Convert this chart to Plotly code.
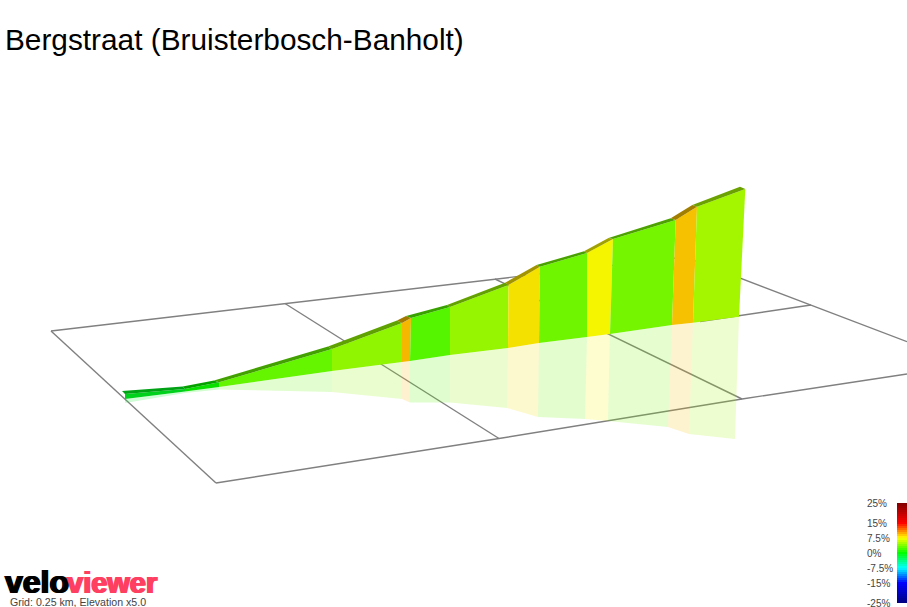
import plotly.graph_objects as go

TITLE = "Bergstraat (Bruisterbosch-Banholt)"
GRID_NOTE = "Grid: 0.25 km, Elevation x5.0"

# Gradient (%) of each road segment
grade = [-1.0, 0.3, 3.1, 4.4, 9.4, 2.6, 4.6, 8.1, 3.4, 7.5, 3.6, 9.1, 5.0]
# Brightness of each wall: the first two walls are seen at a flatter angle
wall_shade = [0.82, 0.88, 0.96, 0.96, 0.96, 0.96, 0.96, 0.96, 0.96, 0.96, 0.96, 0.96, 0.96]

# Projected picture coordinates, one per segment boundary
base_x = [125, 185, 219, 332, 402, 410, 450, 508, 539, 587, 610, 672, 693, 739]
base_y = [399, 391.5, 387, 371, 362, 361, 355, 348, 343, 337, 334, 325, 322.7, 316.7]
top_x = [125, 185, 219, 332, 402, 411, 450, 508.5, 540, 587, 613, 675.7, 697, 745.3]
top_y = [394, 389, 382.3, 349, 323, 318, 307, 285, 266.7, 253, 239, 220, 206.7, 189]
back_x = [122, 182.7, 214, 328, 397, 406, 447, 505, 536.5, 584, 608.5, 670.7, 692.3, 740]
back_y = [391, 386.5, 380.5, 346.5, 320.5, 316, 305, 282.7, 265, 251.3, 238, 218.3, 205, 186.7]
mirror_x = [125, 185, 219, 332, 402, 410, 450, 507, 538, 585, 608, 668, 689, 735]
mirror_y = [403, 393, 389.5, 392, 399, 402.5, 402.5, 408, 417, 419, 421, 427, 434, 439]

# Ground grid polylines
grid_lines = [
    ([51, 285, 495, 685], [331, 303.5, 279, 257]),
    ([216, 499, 742, 907], [483, 438.5, 399, 374]),
    ([51, 216], [331, 483]),
    ([285, 499], [303.5, 438.5]),
    ([495, 742], [279, 399]),
    ([685, 811, 907], [257, 305, 341.7]),
    ([700, 811], [321.5, 305]),
]

# Legend
legend_ticks = [25, 15, 7.5, 0, -7.5, -15, -25]
legend_labels = ["25%", "15%", "7.5%", "0%", "-7.5%", "-15%", "-25%"]
scale_grades = [-25, -15, -7.5, 0, 7.5, 15, 25]
scale_colors = [(0, 0, 128), (0, 0, 255), (0, 255, 255), (0, 255, 0),
                (255, 255, 0), (255, 0, 0), (128, 0, 0)]
legend_rows = list(range(-25, 26))


def grade_colour(g):
    for i in range(len(scale_grades) - 1):
        lo, hi = scale_grades[i], scale_grades[i + 1]
        if lo <= g <= hi:
            t = (g - lo) / (hi - lo)
            return tuple(a + (b - a) * t for a, b in zip(scale_colors[i], scale_colors[i + 1]))
    return scale_colors[-1]


def css(c, factor=1.0, alpha=None):
    r, g, b = (round(v * factor) for v in c)
    if alpha is None:
        return f"rgb({r},{g},{b})"
    return f"rgba({r},{g},{b},{alpha})"


def polygon(xs, ys, fill):
    return go.Scatter(x=xs, y=ys, mode="lines", fill="toself", fillcolor=fill,
                      line=dict(width=0), hoverinfo="skip", showlegend=False)


fig = go.Figure()

for xs, ys in grid_lines:
    fig.add_trace(go.Scatter(x=xs, y=ys, mode="lines", line=dict(color="#808080", width=1.4),
                             hoverinfo="skip", showlegend=False))

for i, g in enumerate(grade):
    c = grade_colour(g)
    fig.add_trace(polygon([base_x[i], base_x[i + 1], mirror_x[i + 1], mirror_x[i]],
                          [base_y[i], base_y[i + 1], mirror_y[i + 1], mirror_y[i]],
                          css(c, 0.96, 0.19)))
for i, g in enumerate(grade):
    c = grade_colour(g)
    fig.add_trace(polygon([base_x[i], base_x[i + 1], top_x[i + 1], top_x[i]],
                          [base_y[i], base_y[i + 1], top_y[i + 1], top_y[i]],
                          css(c, wall_shade[i])))
    fig.add_trace(polygon([top_x[i], top_x[i + 1], back_x[i + 1], back_x[i]],
                          [top_y[i], top_y[i + 1], back_y[i + 1], back_y[i]],
                          css(c, 0.63)))

colorscale = [[(g + 25) / 50, css(c)] for g, c in zip(scale_grades, scale_colors)]
fig.add_trace(go.Heatmap(z=[[r] for r in legend_rows], y=legend_rows, x=[0], xaxis="x2", yaxis="y2",
                         colorscale=colorscale, zmin=-25, zmax=25, showscale=False,
                         hoverinfo="skip"))

annotations = [
    dict(text=TITLE, x=3, y=39.5, xref="x", yref="y", xanchor="left", yanchor="middle", showarrow=False,
         font=dict(family="Liberation Sans", size=29.8, color="#000000")),
    dict(text=GRID_NOTE, x=7.5, y=601.5, xref="x", yref="y", xanchor="left", yanchor="middle", showarrow=False,
         font=dict(family="Liberation Sans", size=10.6, color="#444444")),
    dict(text="velo", x=2.5, y=582, xref="x", yref="y", xanchor="left", yanchor="middle", showarrow=False,
         font=dict(family="Liberation Sans", size=32, weight="bold", color="#000000",
                   shadow="1px 0 0 #000, -1px 0 0 #000")),
    dict(text="viewer", x=65, y=583, xref="x", yref="y", xanchor="left", yanchor="middle", showarrow=False,
         font=dict(family="Liberation Sans", size=29, weight="bold", color="#ff3f62",
                   shadow="1px 0 0 #ff3f62, -1px 0 0 #ff3f62")),
]
for tick, label in zip(legend_ticks, legend_labels):
    annotations.append(dict(text=label, x=865, y=tick, yshift=-0.5, xref="x", yref="y2",
                            xanchor="left", yanchor="middle", showarrow=False,
                            font=dict(family="Liberation Sans", size=10, color="#444444")))

fig.update_layout(
    width=907, height=607, margin=dict(l=0, r=0, t=0, b=0),
    paper_bgcolor="white", plot_bgcolor="white", showlegend=False,
    xaxis=dict(range=[0, 907], domain=[0, 1], visible=False, fixedrange=True),
    yaxis=dict(range=[607, 0], domain=[0, 1], visible=False, fixedrange=True),
    xaxis2=dict(domain=[897 / 907, 1], anchor="y2", visible=False, range=[-0.5, 0.5], fixedrange=True),
    yaxis2=dict(domain=[1 - 603 / 607, 1 - 503 / 607], anchor="x2", visible=False, range=[-25, 25], fixedrange=True),
    annotations=annotations,
)

fig.write_html("out.html", config={"displayModeBar": False},
               post_script="document.body.style.margin='0';document.body.style.overflow='hidden';")
